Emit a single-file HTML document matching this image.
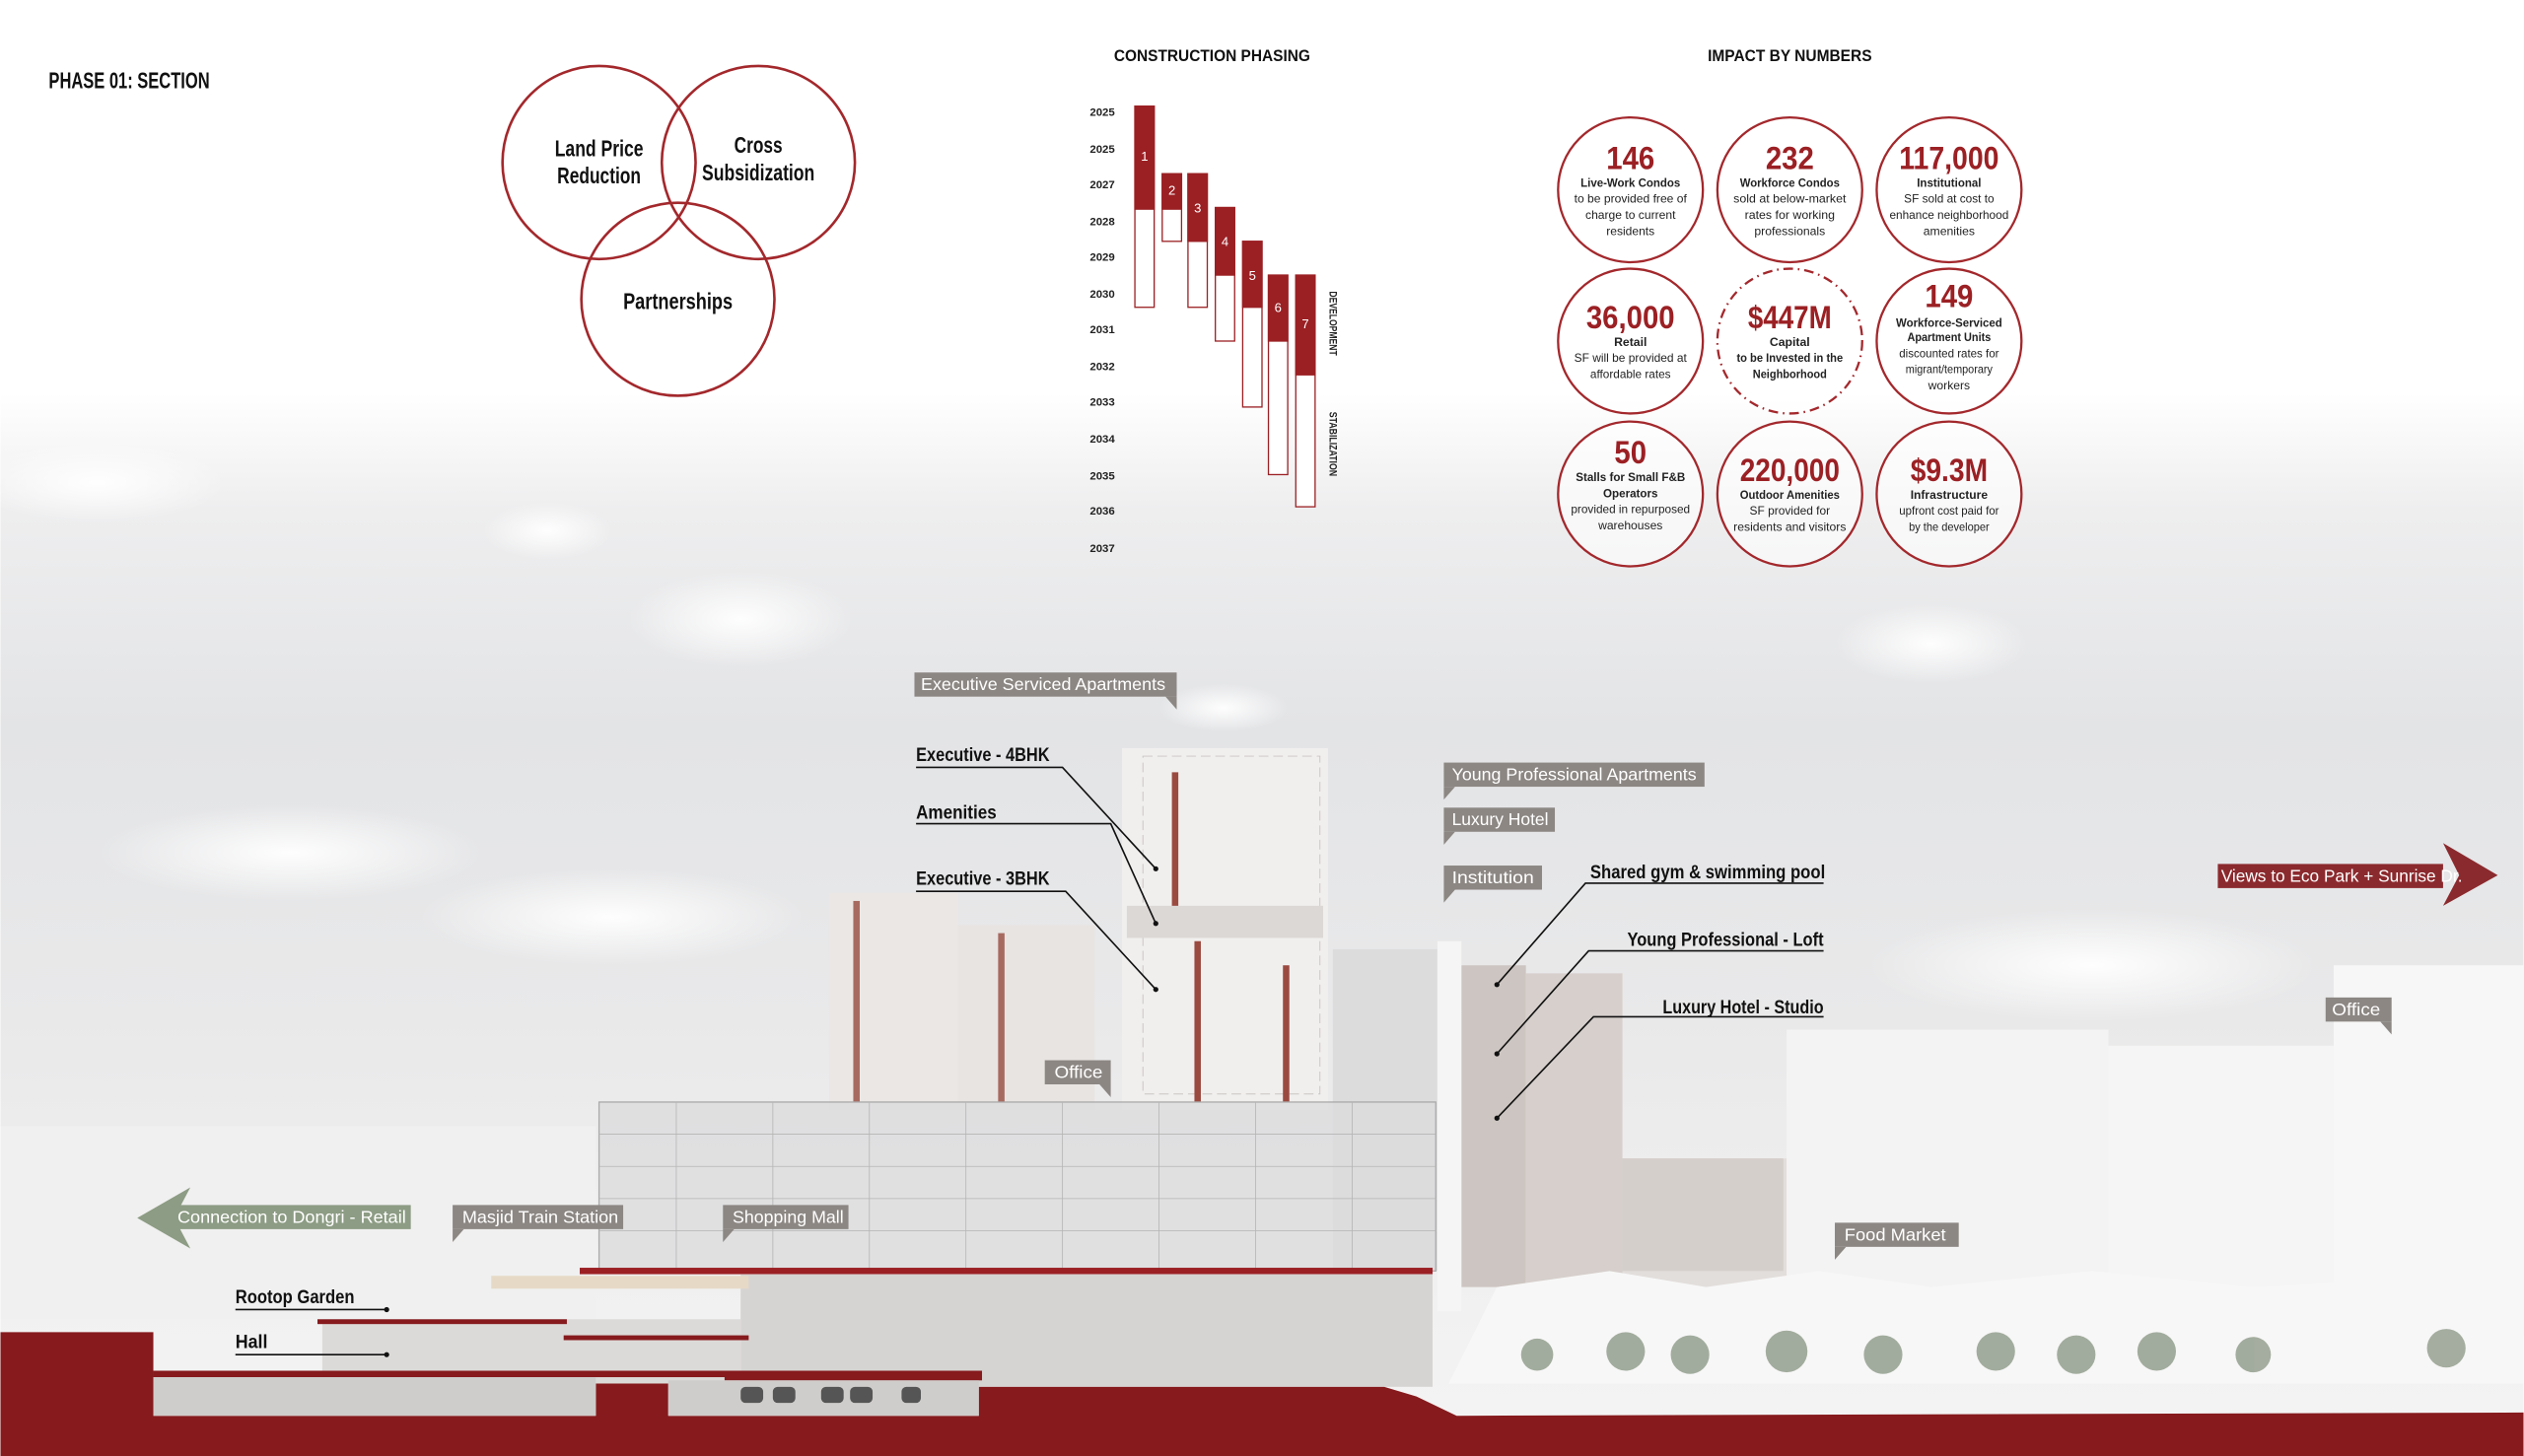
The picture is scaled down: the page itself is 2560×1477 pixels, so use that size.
<!DOCTYPE html>
<html><head><meta charset="utf-8"><style>
html,body{margin:0;padding:0;background:#fff}
svg{display:block}
text{font-family:"Liberation Sans Narrow","Liberation Sans",sans-serif;}
</style></head><body>
<svg width="2560" height="1477" viewBox="0 0 1568 905" xmlns="http://www.w3.org/2000/svg">
<defs>
<linearGradient id="sky" x1="0" y1="0" x2="0" y2="1">
<stop offset="0" stop-color="#ffffff"/>
<stop offset="0.27" stop-color="#ffffff"/>
<stop offset="0.35" stop-color="#eeeeef"/>
<stop offset="0.5" stop-color="#e3e4e6"/>
<stop offset="0.7" stop-color="#e9e9ea"/>
<stop offset="0.9" stop-color="#f1f1f1"/>
<stop offset="1" stop-color="#f4f4f4"/>
</linearGradient>
<radialGradient id="cl"><stop offset="0" stop-color="#fff" stop-opacity="0.95"/><stop offset="1" stop-color="#fff" stop-opacity="0"/></radialGradient>
</defs>
<rect width="1568" height="905" fill="url(#sky)"/>
<ellipse cx="460" cy="385" rx="70" ry="30" fill="url(#cl)"/>
<ellipse cx="340" cy="330" rx="40" ry="18" fill="url(#cl)"/>
<ellipse cx="180" cy="530" rx="120" ry="30" fill="url(#cl)"/>
<ellipse cx="1200" cy="400" rx="60" ry="25" fill="url(#cl)"/>
<ellipse cx="1300" cy="600" rx="140" ry="35" fill="url(#cl)"/>
<ellipse cx="60" cy="300" rx="80" ry="25" fill="url(#cl)"/>
<ellipse cx="760" cy="440" rx="40" ry="15" fill="url(#cl)"/>
<ellipse cx="380" cy="570" rx="120" ry="30" fill="url(#cl)"/>
<rect x="0" y="700" width="370" height="120" fill="#f0f0f0"/>
<rect x="1110" y="640" width="200" height="180" fill="#f3f3f3"/>
<rect x="1310" y="650" width="225" height="180" fill="#f5f5f5"/>
<rect x="1450" y="600" width="120" height="230" fill="#f7f7f7"/>
<rect x="1000" y="720" width="110" height="90" fill="#e2dedc"/>
<rect x="515" y="555" width="80" height="135" fill="#ebe7e5"/>
<rect x="595" y="575" width="85" height="115" fill="#e8e4e2"/>
<rect x="530" y="560" width="4" height="125" fill="#a76a60"/>
<rect x="620" y="580" width="4" height="105" fill="#a76a60"/>
<rect x="697" y="465" width="128" height="225" fill="#f1efee"/>
<rect x="710" y="470" width="110" height="210" fill="none" stroke="#c9c5c4" stroke-width="0.6" stroke-dasharray="6 3"/>
<rect x="728" y="480" width="4" height="90" fill="#9b4a40"/>
<rect x="742" y="585" width="4" height="100" fill="#9b4a40"/>
<rect x="797" y="600" width="4" height="85" fill="#9b4a40"/>
<rect x="700" y="563" width="122" height="20" fill="#dcd8d6"/>
<rect x="828" y="590" width="65" height="200" fill="#dddcdc"/>
<rect x="893" y="585" width="15" height="230" fill="#f5f5f5"/>
<rect x="908" y="600" width="40" height="200" fill="#cdc5c1"/>
<rect x="948" y="605" width="60" height="200" fill="#d6cfcc"/>
<rect x="1008" y="720" width="100" height="70" fill="#d5cfcb"/>
<rect x="372" y="685" width="520" height="105" fill="#dcdcdd" fill-opacity="0.8" stroke="#aaa" stroke-width="0.8"/>
<g stroke="#b5b5b5" stroke-width="0.5">
<line x1="372" y1="705" x2="892" y2="705"/><line x1="372" y1="725" x2="892" y2="725"/><line x1="372" y1="745" x2="892" y2="745"/><line x1="372" y1="765" x2="892" y2="765"/>
<line x1="420" y1="685" x2="420" y2="790"/><line x1="480" y1="685" x2="480" y2="790"/><line x1="540" y1="685" x2="540" y2="790"/><line x1="600" y1="685" x2="600" y2="790"/><line x1="660" y1="685" x2="660" y2="790"/><line x1="720" y1="685" x2="720" y2="790"/><line x1="780" y1="685" x2="780" y2="790"/><line x1="840" y1="685" x2="840" y2="790"/>
</g>
<path d="M900 860 L930 800 L1000 790 L1060 800 L1130 790 L1200 800 L1300 790 L1400 800 L1568 790 L1568 860 Z" fill="#f7f7f7"/>
<g fill="#8e9a88" opacity="0.8">
<circle cx="1010" cy="840" r="12"/><circle cx="1050" cy="842" r="12"/><circle cx="1110" cy="840" r="13"/><circle cx="1170" cy="842" r="12"/><circle cx="1240" cy="840" r="12"/><circle cx="1290" cy="842" r="12"/><circle cx="1340" cy="840" r="12"/><circle cx="1400" cy="842" r="11"/><circle cx="1520" cy="838" r="12"/><circle cx="955" cy="842" r="10"/>
</g>
<rect x="360" y="788" width="530" height="4" fill="#9b2024"/>
<rect x="460" y="792" width="430" height="70" fill="#d6d4d2"/>
<rect x="200" y="820" width="260" height="40" fill="#dcdad8"/>
<rect x="305" y="793" width="160" height="8" fill="#e6d9c6"/>
<path d="M0 828 L95 828 L95 880 L370 880 L370 860 L415 860 L415 880 L608 880 L608 862 L860 862 L880 868 L905 880 L1568 878 L1568 905 L0 905 Z" fill="#861a1d"/>
<rect x="95" y="852" width="360" height="4" fill="#861a1d"/>
<rect x="450" y="852" width="160" height="6" fill="#861a1d"/>
<rect x="197" y="820" width="155" height="3" fill="#861a1d"/>
<rect x="350" y="830" width="115" height="3" fill="#861a1d"/>
<rect x="95" y="856" width="275" height="24" fill="#cfcdcb"/>
<rect x="415" y="858" width="193" height="22" fill="#cfcdcb"/>
<g fill="#555"><rect x="460" y="862" width="14" height="10" rx="3"/><rect x="480" y="862" width="14" height="10" rx="3"/><rect x="510" y="862" width="14" height="10" rx="3"/><rect x="528" y="862" width="14" height="10" rx="3"/><rect x="560" y="862" width="12" height="10" rx="3"/></g>

<text x="30" y="55" font-size="14" font-weight="bold" fill="#111" textLength="100" lengthAdjust="spacingAndGlyphs">PHASE 01: SECTION</text>
<g fill="none" stroke="#a3282c" stroke-width="1.6">
<circle cx="372" cy="101" r="60"/><circle cx="471" cy="101" r="60"/><circle cx="421" cy="186" r="60"/>
</g>
<g font-size="14" font-weight="bold" fill="#111" text-anchor="middle">
<text x="372" y="97" textLength="55" lengthAdjust="spacingAndGlyphs">Land Price</text><text x="372" y="114" textLength="52" lengthAdjust="spacingAndGlyphs">Reduction</text>
<text x="471" y="95" textLength="30" lengthAdjust="spacingAndGlyphs">Cross</text><text x="471" y="112" textLength="70" lengthAdjust="spacingAndGlyphs">Subsidization</text>
<text x="421" y="192" textLength="68" lengthAdjust="spacingAndGlyphs">Partnerships</text>
</g>
<text x="753" y="38" font-size="10" font-weight="bold" fill="#111" text-anchor="middle" textLength="122" lengthAdjust="spacingAndGlyphs">CONSTRUCTION PHASING</text>
<g font-size="7" font-weight="bold" fill="#222">
<text x="677" y="72">2025</text><text x="677" y="95">2025</text><text x="677" y="117">2027</text><text x="677" y="140">2028</text><text x="677" y="162">2029</text><text x="677" y="185">2030</text><text x="677" y="207">2031</text><text x="677" y="230">2032</text><text x="677" y="252">2033</text><text x="677" y="275">2034</text><text x="677" y="298">2035</text><text x="677" y="320">2036</text><text x="677" y="343">2037</text>
</g>
<g stroke="#9b2024" stroke-width="0.8">
<rect x="705" y="66" width="12" height="125" fill="#fff"/><rect x="705" y="66" width="12" height="64" fill="#9b2024"/>
<rect x="722" y="108" width="12" height="42" fill="#fff"/><rect x="722" y="108" width="12" height="22" fill="#9b2024"/>
<rect x="738" y="108" width="12" height="83" fill="#fff"/><rect x="738" y="108" width="12" height="42" fill="#9b2024"/>
<rect x="755" y="129" width="12" height="83" fill="#fff"/><rect x="755" y="129" width="12" height="42" fill="#9b2024"/>
<rect x="772" y="150" width="12" height="103" fill="#fff"/><rect x="772" y="150" width="12" height="41" fill="#9b2024"/>
<rect x="788" y="171" width="12" height="124" fill="#fff"/><rect x="788" y="171" width="12" height="41" fill="#9b2024"/>
<rect x="805" y="171" width="12" height="144" fill="#fff"/><rect x="805" y="171" width="12" height="62" fill="#9b2024"/>
</g>
<g font-size="8" fill="#fff" text-anchor="middle">
<text x="711" y="100">1</text><text x="728" y="121">2</text><text x="744" y="132">3</text><text x="761" y="153">4</text><text x="778" y="174">5</text><text x="794" y="194">6</text><text x="811" y="204">7</text>
</g>
<g font-size="7" font-weight="bold" fill="#222">
<text transform="translate(826,181) rotate(90)" textLength="40" lengthAdjust="spacingAndGlyphs">DEVELOPMENT</text>
<text transform="translate(826,256) rotate(90)" textLength="40" lengthAdjust="spacingAndGlyphs">STABILIZATION</text>
</g>
<text x="1112" y="38" font-size="10" font-weight="bold" fill="#111" text-anchor="middle" textLength="102" lengthAdjust="spacingAndGlyphs">IMPACT BY NUMBERS</text>
<g fill="#fff" fill-opacity="0.6" stroke="#a3282c" stroke-width="1.4">
<circle cx="1013" cy="118" r="45"/><circle cx="1112" cy="118" r="45"/><circle cx="1211" cy="118" r="45"/>
<circle cx="1013" cy="212" r="45"/><circle cx="1112" cy="212" r="45" stroke-dasharray="6 3 1 3"/><circle cx="1211" cy="212" r="45"/>
<circle cx="1013" cy="307" r="45"/><circle cx="1112" cy="307" r="45"/><circle cx="1211" cy="307" r="45"/>
</g>
<g text-anchor="middle">
<g font-size="20" font-weight="bold" fill="#9b2024">
<text x="1013" y="105" textLength="30" lengthAdjust="spacingAndGlyphs">146</text><text x="1112" y="105" textLength="30" lengthAdjust="spacingAndGlyphs">232</text><text x="1211" y="105" textLength="62" lengthAdjust="spacingAndGlyphs">117,000</text>
<text x="1013" y="204" textLength="55" lengthAdjust="spacingAndGlyphs">36,000</text><text x="1112" y="204" textLength="52" lengthAdjust="spacingAndGlyphs">$447M</text><text x="1211" y="191" textLength="30" lengthAdjust="spacingAndGlyphs">149</text>
<text x="1013" y="288" textLength="20" lengthAdjust="spacingAndGlyphs">50</text><text x="1112" y="299" textLength="62" lengthAdjust="spacingAndGlyphs">220,000</text><text x="1211" y="299" textLength="48" lengthAdjust="spacingAndGlyphs">$9.3M</text>
</g>
<g font-size="7.5" fill="#222" font-stretch="condensed">
<text x="1013" y="116" font-weight="bold" textLength="62" lengthAdjust="spacingAndGlyphs">Live-Work Condos</text><text x="1013" y="126" textLength="70" lengthAdjust="spacingAndGlyphs">to be provided free of</text><text x="1013" y="136" textLength="56" lengthAdjust="spacingAndGlyphs">charge to current</text><text x="1013" y="146" textLength="30" lengthAdjust="spacingAndGlyphs">residents</text>
<text x="1112" y="116" font-weight="bold" textLength="62" lengthAdjust="spacingAndGlyphs">Workforce Condos</text><text x="1112" y="126" textLength="70" lengthAdjust="spacingAndGlyphs">sold at below-market</text><text x="1112" y="136" textLength="56" lengthAdjust="spacingAndGlyphs">rates for working</text><text x="1112" y="146" textLength="44" lengthAdjust="spacingAndGlyphs">professionals</text>
<text x="1211" y="116" font-weight="bold" textLength="40" lengthAdjust="spacingAndGlyphs">Institutional</text><text x="1211" y="126" textLength="56" lengthAdjust="spacingAndGlyphs">SF sold at cost to</text><text x="1211" y="136" textLength="74" lengthAdjust="spacingAndGlyphs">enhance neighborhood</text><text x="1211" y="146" textLength="32" lengthAdjust="spacingAndGlyphs">amenities</text>
<text x="1013" y="215" font-weight="bold">Retail</text><text x="1013" y="225" textLength="70" lengthAdjust="spacingAndGlyphs">SF will be provided at</text><text x="1013" y="235" textLength="50" lengthAdjust="spacingAndGlyphs">affordable rates</text>
<text x="1112" y="215" font-weight="bold">Capital</text><text x="1112" y="225" font-weight="bold" textLength="66" lengthAdjust="spacingAndGlyphs">to be Invested in the</text><text x="1112" y="235" font-weight="bold" textLength="46" lengthAdjust="spacingAndGlyphs">Neighborhood</text>
<text x="1211" y="203" font-weight="bold" textLength="66" lengthAdjust="spacingAndGlyphs">Workforce-Serviced</text><text x="1211" y="212" font-weight="bold" textLength="52" lengthAdjust="spacingAndGlyphs">Apartment Units</text><text x="1211" y="222" textLength="62" lengthAdjust="spacingAndGlyphs">discounted rates for</text><text x="1211" y="232" textLength="54" lengthAdjust="spacingAndGlyphs">migrant/temporary</text><text x="1211" y="242" textLength="26" lengthAdjust="spacingAndGlyphs">workers</text>
<text x="1013" y="299" font-weight="bold" textLength="68" lengthAdjust="spacingAndGlyphs">Stalls for Small F&amp;B</text><text x="1013" y="309" font-weight="bold" textLength="34" lengthAdjust="spacingAndGlyphs">Operators</text><text x="1013" y="319" textLength="74" lengthAdjust="spacingAndGlyphs">provided in repurposed</text><text x="1013" y="329" textLength="40" lengthAdjust="spacingAndGlyphs">warehouses</text>
<text x="1112" y="310" font-weight="bold" textLength="62" lengthAdjust="spacingAndGlyphs">Outdoor Amenities</text><text x="1112" y="320" textLength="50" lengthAdjust="spacingAndGlyphs">SF provided for</text><text x="1112" y="330" textLength="70" lengthAdjust="spacingAndGlyphs">residents and visitors</text>
<text x="1211" y="310" font-weight="bold" textLength="48" lengthAdjust="spacingAndGlyphs">Infrastructure</text><text x="1211" y="320" textLength="62" lengthAdjust="spacingAndGlyphs">upfront cost paid for</text><text x="1211" y="330" textLength="50" lengthAdjust="spacingAndGlyphs">by the developer</text>
</g>
</g>

<g fill="#8c8783">
<rect x="568" y="418" width="163" height="15"/><path d="M724 433 L731 433 L731 441 Z"/>
<rect x="897" y="474" width="162" height="15"/><path d="M897 489 L904 489 L897 497 Z"/>
<rect x="897" y="502" width="69" height="15"/><path d="M897 517 L904 517 L897 525 Z"/>
<rect x="897" y="538" width="61" height="15"/><path d="M897 553 L904 553 L897 561 Z"/>
<rect x="649" y="659" width="41" height="15"/><path d="M683 674 L690 674 L690 682 Z"/>
<rect x="1445" y="620" width="41" height="15"/><path d="M1479 635 L1486 635 L1486 643 Z"/>
<rect x="1140" y="760" width="77" height="15"/><path d="M1140 775 L1147 775 L1140 783 Z"/>
<rect x="281" y="749" width="106" height="15"/><path d="M281 764 L288 764 L281 772 Z"/>
<rect x="449" y="749" width="78" height="15"/><path d="M449 764 L456 764 L449 772 Z"/>
</g>
<rect x="105" y="749" width="150" height="15" fill="#8d9c84"/>
<path d="M85 757 L118 738 L108 757 L118 776 Z" fill="#8d9c84"/>
<rect x="1378" y="537" width="140" height="15" fill="#8b2a2e"/>
<path d="M1552 544 L1518 524 L1528 544 L1518 563 Z" fill="#8b2a2e"/>
<g font-size="11" fill="#fff" lengthAdjust="spacingAndGlyphs">
<text x="572" y="429" textLength="152" lengthAdjust="spacingAndGlyphs">Executive Serviced Apartments</text>
<text x="902" y="485" textLength="152" lengthAdjust="spacingAndGlyphs">Young Professional Apartments</text>
<text x="902" y="513" textLength="60" lengthAdjust="spacingAndGlyphs">Luxury Hotel</text>
<text x="902" y="549" textLength="51" lengthAdjust="spacingAndGlyphs">Institution</text>
<text x="655" y="670" textLength="30" lengthAdjust="spacingAndGlyphs">Office</text>
<text x="1449" y="631" textLength="30" lengthAdjust="spacingAndGlyphs">Office</text>
<text x="1146" y="771" textLength="63" lengthAdjust="spacingAndGlyphs">Food Market</text>
<text x="287" y="760" textLength="97" lengthAdjust="spacingAndGlyphs">Masjid Train Station</text>
<text x="455" y="760" textLength="69" lengthAdjust="spacingAndGlyphs">Shopping Mall</text>
<text x="110" y="760" textLength="142" lengthAdjust="spacingAndGlyphs">Connection to Dongri - Retail</text>
<text x="1380" y="548" textLength="150" lengthAdjust="spacingAndGlyphs">Views to Eco Park + Sunrise Dr.</text>
</g>
<g font-size="12" font-weight="bold" fill="#111">
<text x="569" y="473" textLength="83" lengthAdjust="spacingAndGlyphs">Executive - 4BHK</text>
<text x="569" y="509" textLength="50" lengthAdjust="spacingAndGlyphs">Amenities</text>
<text x="569" y="550" textLength="83" lengthAdjust="spacingAndGlyphs">Executive - 3BHK</text>
<text x="988" y="546" textLength="146" lengthAdjust="spacingAndGlyphs">Shared gym &amp; swimming pool</text>
<text x="1011" y="588" textLength="122" lengthAdjust="spacingAndGlyphs">Young Professional - Loft</text>
<text x="1033" y="630" textLength="100" lengthAdjust="spacingAndGlyphs">Luxury Hotel - Studio</text>
<text x="146" y="810" textLength="74" lengthAdjust="spacingAndGlyphs">Rootop Garden</text>
<text x="146" y="838" textLength="20" lengthAdjust="spacingAndGlyphs">Hall</text>
</g>
<g stroke="#111" stroke-width="1" fill="none">
<path d="M569 477 L660 477 L718 540"/>
<path d="M569 512 L690 512 L718 574"/>
<path d="M569 554 L662 554 L718 615"/>
<path d="M1133 549 L985 549 L930 612"/>
<path d="M1133 591 L987 591 L930 655"/>
<path d="M1133 632 L990 632 L930 695"/>
<path d="M146 814 L240 814"/>
<path d="M146 842 L240 842"/>
</g>
<g fill="#111"><circle cx="718" cy="540" r="1.6"/><circle cx="718" cy="574" r="1.6"/><circle cx="718" cy="615" r="1.6"/><circle cx="930" cy="612" r="1.6"/><circle cx="930" cy="655" r="1.6"/><circle cx="930" cy="695" r="1.6"/><circle cx="240" cy="814" r="1.6"/><circle cx="240" cy="842" r="1.6"/></g>
</svg>
</body></html>
